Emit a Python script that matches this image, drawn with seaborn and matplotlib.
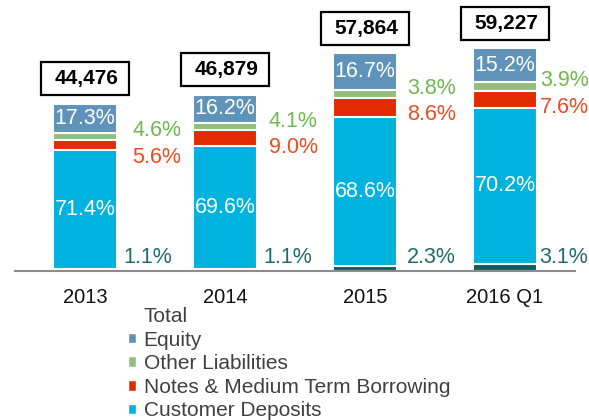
import numpy as np
import pandas as pd
import matplotlib
matplotlib.use("Agg")
import matplotlib.pyplot as plt
from matplotlib.patches import Patch, Rectangle
import seaborn as sns

# data (totals in millions, shares in %)
years = ["2013", "2014", "2015", "2016 Q1"]
totals = [44476, 46879, 57864, 59227]
equity = [17.3, 16.2, 16.7, 15.2]
other_liab = [4.6, 4.1, 3.8, 3.9]
notes = [5.6, 9.0, 8.6, 7.6]
deposits = [71.4, 69.6, 68.6, 70.2]
other_funding = [1.1, 1.1, 2.3, 3.1]

c_equity = "#5f93ba"
c_other = "#93be7e"
c_notes = "#e22c00"
c_dep = "#00b3df"
c_fund = "#145c5c"

sns.set_style("white")
plt.rcParams['font.family'] = ['Liberation Sans', 'DejaVu Sans']

tot = np.array(totals, dtype=float)
amt = {
    "fund": tot * np.array(other_funding) / 100,
    "dep": tot * np.array(deposits) / 100,
    "notes": tot * np.array(notes) / 100,
    "other": tot * np.array(other_liab) / 100,
    "equity": tot * np.array(equity) / 100,
}
cum_fund = amt["fund"]
cum_dep = cum_fund + amt["dep"]
cum_notes = cum_dep + amt["notes"]
cum_other = cum_notes + amt["other"]
cum_eq = cum_other + amt["equity"]

df = pd.DataFrame({"year": years, "eq": cum_eq, "other": cum_other,
                   "notes": cum_notes, "dep": cum_dep, "fund": cum_fund})

fig = plt.figure(figsize=(5.89, 4.2), dpi=100)
ax = fig.add_axes([15 / 589, 1 - 271 / 420, 560 / 589, 271 / 420])

bw = 0.464
# stacked look: draw cumulative bars back to front
for col, color in [("eq", c_equity), ("other", c_other), ("notes", c_notes),
                   ("dep", c_dep), ("fund", c_fund)]:
    sns.barplot(data=df, x="year", y=col, color=color, width=bw,
                edgecolor="white", linewidth=1.5, saturation=1, ax=ax)

ax.set_xlim(-0.5, 3.5)
ax.set_ylim(0, 72000)
ax.set_xlabel("")
ax.set_ylabel("")
ax.set_yticks([])
for s in ["top", "right", "left"]:
    ax.spines[s].set_visible(False)
ax.spines["bottom"].set_color("#8c8c8c")
ax.spines["bottom"].set_linewidth(1.5)
ax.set_xticks(range(len(years)))
ax.set_xticklabels(years, fontsize=14.5, color="#111111")
ax.set_xticks(np.arange(-0.5, 4, 1), minor=True)
ax.tick_params(axis="x", which="major", length=0, pad=12)
ax.tick_params(axis="x", which="minor", length=6, width=1.5, color="#8c8c8c")

fs = 15.5
side_dx = [0.105, 0.08, 0.07, 0.02]
fund_dx = [0.045, 0.045, 0.07, 0.01]
for i in range(len(years)):
    right = i + bw / 2
    # inside labels
    ax.text(i, (cum_other[i] + cum_eq[i]) / 2, f"{equity[i]:.1f}%", ha="center",
            va="center", color="white", fontsize=fs)
    ax.text(i, (cum_fund[i] + cum_dep[i]) / 2, f"{deposits[i]:.1f}%", ha="center",
            va="center", color="white", fontsize=fs)
    # side labels
    gy = (cum_notes[i] + cum_other[i]) / 2 + 1500
    ax.text(right + side_dx[i], gy, f"{other_liab[i]:.1f}%", ha="left", va="center",
            color="#6fb84d", fontsize=fs)
    ax.text(right + side_dx[i], gy - 7000, f"{notes[i]:.1f}%", ha="left", va="center",
            color="#ef4a20", fontsize=fs)
    ax.text(right + fund_dx[i], 3600, f"{other_funding[i]:.1f}%", ha="left", va="center",
            color="#1d6b6b", fontsize=fs)
    # total boxes
    by = totals[i] + 6650
    ax.add_patch(Rectangle((i - 0.315, by - 4390), 0.63, 8780, facecolor="white",
                           edgecolor="black", linewidth=1.6, clip_on=False))
    ax.text(i + 0.01, by, f"{totals[i]:,}", ha="center", va="center",
            fontsize=15, fontweight="bold", color="black")

handles = [Patch(facecolor="none", edgecolor="none"),
           Patch(facecolor=c_equity), Patch(facecolor=c_other),
           Patch(facecolor=c_notes), Patch(facecolor=c_dep)]
labels = ["Total", "Equity", "Other Liabilities",
          "Notes & Medium Term Borrowing", "Customer Deposits"]
leg = fig.legend(handles, labels, loc="upper left", bbox_to_anchor=(128 / 589, 1 - 307 / 420),
                 frameon=False, fontsize=15, handlelength=0.4, handleheight=0.4,
                 handletextpad=0.35, labelspacing=0.22, borderpad=0, borderaxespad=0)
for t in leg.get_texts():
    t.set_color("#404040")

fig.savefig("out.png", dpi=100)
